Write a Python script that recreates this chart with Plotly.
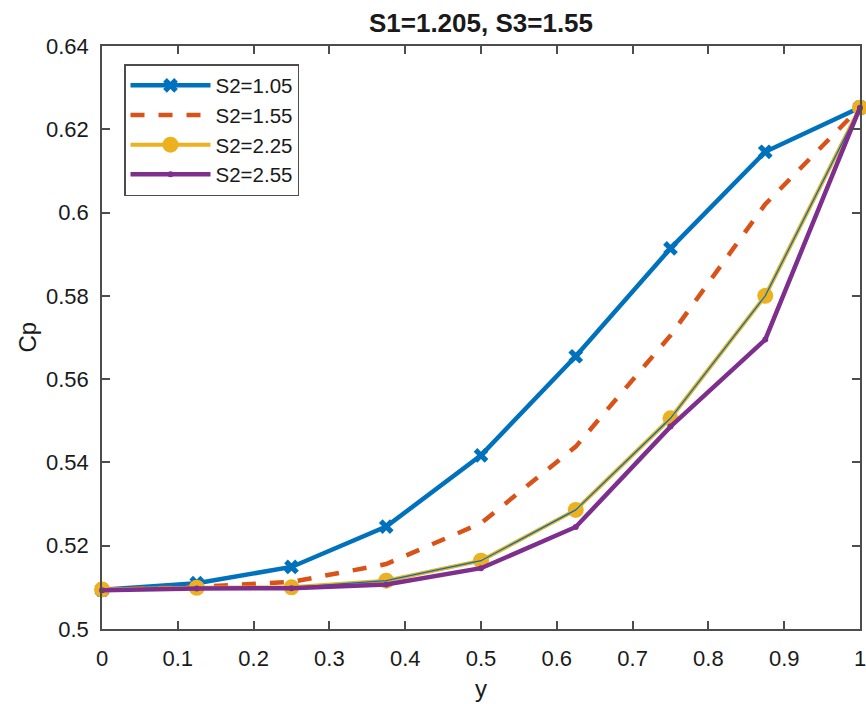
import plotly.graph_objects as go

x_vals = [0, 0.125, 0.25, 0.375, 0.5, 0.625, 0.75, 0.875, 1.0]

s2_105 = [0.5094, 0.5110, 0.5149, 0.5246, 0.5417, 0.5655, 0.5914, 0.6146, 0.6252]
s2_155 = [0.5094, 0.5101, 0.5113, 0.5156, 0.5254, 0.5438, 0.5705, 0.6020, 0.6252]
s2_225 = [0.5095, 0.5099, 0.5100, 0.5116, 0.5164, 0.5286, 0.5506, 0.5800, 0.6252]
s2_255 = [0.5093, 0.5097, 0.5098, 0.5107, 0.5146, 0.5245, 0.5486, 0.5695, 0.6252]

names = ["S2=1.05", "S2=1.55", "S2=2.25", "S2=2.55"]
colors = ["#0072BD", "#D95319", "#EDB120", "#7E2F8E"]

x_ticks = [0, 0.1, 0.2, 0.3, 0.4, 0.5, 0.6, 0.7, 0.8, 0.9, 1.0]
x_ticktext = ["0", "0.1", "0.2", "0.3", "0.4", "0.5", "0.6", "0.7", "0.8", "0.9", "1"]
y_ticks = [0.5, 0.52, 0.54, 0.56, 0.58, 0.6, 0.62, 0.64]
y_ticktext = ["0.5", "0.52", "0.54", "0.56", "0.58", "0.6", "0.62", "0.64"]

FONT = "Liberation Sans, Arial, sans-serif"
TXT = "#1a1a1a"

fig = go.Figure()
fig.add_trace(go.Scatter(x=x_vals, y=s2_105, name=names[0], mode="lines+markers",
                         line=dict(color=colors[0], width=4.5),
                         marker=dict(symbol="x", size=13, color=colors[0]),
                         cliponaxis=False))
fig.add_trace(go.Scatter(x=x_vals, y=s2_155, name=names[1], mode="lines",
                         line=dict(color=colors[1], width=4.5, dash="14px,14px"),
                         cliponaxis=False))
fig.add_trace(go.Scatter(x=x_vals, y=s2_225, name=names[2], mode="lines+markers",
                         line=dict(color=colors[2], width=4),
                         marker=dict(symbol="circle", size=16, color=colors[2]),
                         cliponaxis=False))
fig.add_trace(go.Scatter(x=x_vals, y=s2_225, showlegend=False, mode="lines",
                         line=dict(color=colors[0], width=1.2), hoverinfo="skip",
                         cliponaxis=False))
fig.add_trace(go.Scatter(x=x_vals, y=s2_255, name=names[3], mode="lines+markers",
                         line=dict(color=colors[3], width=4.5),
                         marker=dict(symbol="circle", size=6, color=colors[3]),
                         cliponaxis=False))

axis_common = dict(showgrid=False, zeroline=False, showline=True, linecolor="#4d4d4d",
                   linewidth=1.5, mirror="ticks", ticks="inside", ticklen=8,
                   tickwidth=1.5, tickcolor="#4d4d4d", automargin=False,
                   tickfont=dict(family=FONT, size=22, color=TXT))

fig.update_xaxes(range=[0, 1], tickvals=x_ticks, ticktext=x_ticktext,
                 ticklabeloverflow="allow", ticklabelstandoff=9, **axis_common)
fig.update_yaxes(range=[0.5, 0.64], tickvals=y_ticks, ticktext=y_ticktext,
                 ticklabelstandoff=7, **axis_common)

fig.add_annotation(text="Cp", xref="paper", yref="paper", x=(27 - 102) / 758, y=0.5,
                   xanchor="center", yanchor="middle", textangle=-90, showarrow=False,
                   font=dict(family=FONT, size=24, color=TXT))
fig.add_annotation(text="y", xref="paper", yref="paper", x=0.5, y=(629 - 688) / 583,
                   xanchor="center", yanchor="middle", showarrow=False,
                   font=dict(family=FONT, size=24, color=TXT))

fig.update_layout(
    width=866, height=704,
    margin=dict(l=102, r=6, t=46, b=75),
    paper_bgcolor="white", plot_bgcolor="white",
    title=dict(text="<b>S1=1.205, S3=1.55</b>", x=0.5, xref="paper", xanchor="center",
               y=1 - 23 / 704, yref="container", yanchor="middle",
               font=dict(family=FONT, size=26, color=TXT)),
    legend=dict(x=(124 - 102) / 758, y=(629 - 64) / 583, xanchor="left", yanchor="top",
                bordercolor="#4d4d4d", borderwidth=1.5, bgcolor="white",
                font=dict(family=FONT, size=20.5, color=TXT),
                itemwidth=80, tracegroupgap=0),
    showlegend=True,
)

fig.write_html("out.html", config={"displayModeBar": False},
               post_script="document.body.style.margin='0';document.body.style.overflow='hidden';")
